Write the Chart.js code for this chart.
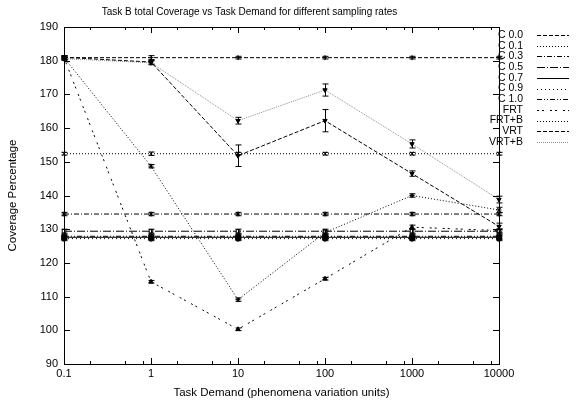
<!DOCTYPE html>
<html>
<head>
<meta charset="utf-8">
<script src="https://cdn.jsdelivr.net/npm/chart.js@4.4.1/dist/chart.umd.min.js"></script>
<style>
  html, body { margin: 0; padding: 0; background: #fff; }
  #wrap { width: 588px; height: 403px; }
</style>
</head>
<body>
<div id="wrap"><canvas id="coverageGraph"></canvas></div>
<script>
// Task demand values (x, log scale)
const demand = [0.1, 1, 10, 100, 1000, 10000];
const xTickValues = [0.1, 1, 10, 100, 1000, 10000];
const xMinorFactors = [2, 5, 8];
const yTickValues = [90, 100, 110, 120, 130, 140, 150, 160, 170, 180, 190];

const seriesNames = ["C 0.0", "C 0.1", "C 0.3", "C 0.5", "C 0.7", "C 0.9", "C 1.0", "FRT", "FRT+B", "VRT", "VRT+B"];

// coverage
const c00 = [180.9, 180.9, 180.9, 180.9, 180.9, 180.9];
const c01 = [152.4, 152.4, 152.4, 152.4, 152.4, 152.4];
const c03 = [134.5, 134.5, 134.5, 134.5, 134.5, 134.5];
const c05 = [129.4, 129.4, 129.4, 129.4, 129.4, 129.4];
const c07 = [127.6, 127.6, 127.6, 127.6, 127.6, 127.6];
const c09 = [127.2, 127.2, 127.2, 127.2, 127.2, 127.2];
const c10 = [127.9, 127.9, 127.9, 127.9, 127.9, 127.9];
const frt = [180.9, 114.4, 100.3, 115.3, 130.6, 129.6];
const frtB = [180.9, 148.7, 109.1, 129.0, 140.0, 135.7];
const vrt = [181.0, 179.6, 151.8, 162.2, 146.5, 130.8];
const vrtB = [180.6, 179.4, 162.2, 171.3, 155.3, 138.8];

// half width of error bars
const c00Err = [0.5, 0.6, 0.4, 0.4, 0.4, 0.4];
const c01Err = [0.4, 0.5, 0.4, 0.4, 0.4, 0.4];
const c03Err = [0.5, 0.5, 0.5, 0.5, 0.5, 0.5];
const c05Err = [0.6, 0.6, 0.6, 0.6, 0.6, 0.6];
const c07Err = [0.6, 0.6, 0.6, 0.6, 0.6, 0.6];
const c09Err = [0.6, 0.6, 0.6, 0.6, 0.6, 0.6];
const c10Err = [0.6, 0.6, 0.6, 0.6, 0.6, 0.6];
const frtErr = [0.5, 0.4, 0.4, 0.4, 0.6, 0.5];
const frtBErr = [0.5, 0.5, 0.5, 0.5, 0.5, 0.8];
const vrtErr = [0.5, 0.6, 3.2, 3.3, 0.8, 1.0];
const vrtBErr = [0.5, 0.6, 1.0, 1.8, 1.2, 1.0];

const FONT = '"Liberation Sans", Arial, sans-serif';

function series(i, values, errors, dash, point, extra) {
    return Object.assign({
        label: seriesNames[i],
        data: demand.map((x, j) => ({ x: x, y: values[j] })),
        errors: errors,
        borderColor: '#000',
        borderWidth: 1,
        borderDash: dash,
        pointStyle: point,
        pointRadius: 2.5,
        pointBorderColor: '#000',
        pointBackgroundColor: '#000',
        pointBorderWidth: 1,
        fill: false,
        tension: 0,
        clip: false
    }, extra || {});
}

// inward ticks + full box, like gnuplot
const frame = {
    id: 'frame',
    afterDraw(chart) {
        const { ctx, chartArea: a, scales: { x, y } } = chart;
        ctx.save();
        ctx.strokeStyle = '#000';
        ctx.lineWidth = 1;
        ctx.setLineDash([]);
        ctx.beginPath();
        xTickValues.forEach((v) => {
            const px = Math.round(x.getPixelForValue(v)) + 0.5;
            ctx.moveTo(px, a.bottom); ctx.lineTo(px, a.bottom - 6);
            ctx.moveTo(px, a.top); ctx.lineTo(px, a.top + 6);
            if (v < 10000) {
                xMinorFactors.forEach((f) => {
                    const pm = Math.round(x.getPixelForValue(v * f)) + 0.5;
                    ctx.moveTo(pm, a.bottom); ctx.lineTo(pm, a.bottom - 3);
                    ctx.moveTo(pm, a.top); ctx.lineTo(pm, a.top + 3);
                });
            }
        });
        yTickValues.forEach((v) => {
            const py = Math.round(y.getPixelForValue(v)) + 0.5;
            ctx.moveTo(a.left, py); ctx.lineTo(a.left + 6, py);
            ctx.moveTo(a.right, py); ctx.lineTo(a.right - 6, py);
        });
        ctx.stroke();
        ctx.strokeRect(Math.round(a.left) + 0.5, Math.round(a.top) + 0.5, Math.round(a.width), Math.round(a.height));
        ctx.restore();
    }
};

const errorBars = {
    id: 'errorBars',
    afterDatasetsDraw(chart) {
        const { ctx, scales: { x, y } } = chart;
        ctx.save();
        ctx.strokeStyle = '#000';
        ctx.lineWidth = 1;
        ctx.setLineDash([]);
        chart.data.datasets.forEach((ds) => {
            if (!ds.errors) return;
            ds.data.forEach((p, j) => {
                const e = ds.errors[j];
                const px = Math.round(x.getPixelForValue(p.x)) + 0.5;
                const top = y.getPixelForValue(p.y + e);
                const bot = y.getPixelForValue(p.y - e);
                ctx.beginPath();
                ctx.moveTo(px, top); ctx.lineTo(px, bot);
                ctx.moveTo(px - 3, top); ctx.lineTo(px + 3, top);
                ctx.moveTo(px - 3, bot); ctx.lineTo(px + 3, bot);
                ctx.stroke();
            });
        });
        ctx.restore();
    }
};

// gnuplot style key: text right aligned, line sample after it
const key = {
    id: 'key',
    afterDraw(chart) {
        const ctx = chart.ctx;
        ctx.save();
        ctx.font = '10.5px ' + FONT;
        ctx.textAlign = 'right';
        ctx.textBaseline = 'middle';
        chart.data.datasets.forEach((ds, i) => {
            const rowY = 35 + i * 10.7;
            ctx.fillStyle = '#000';
            ctx.fillText(ds.label, 523, rowY);
            ctx.strokeStyle = ds.borderColor;
            ctx.lineWidth = ds.borderWidth;
            ctx.setLineDash(ds.borderDash);
            ctx.beginPath();
            ctx.moveTo(537, Math.round(rowY) + 0.5);
            ctx.lineTo(569, Math.round(rowY) + 0.5);
            ctx.stroke();
        });
        ctx.restore();
    }
};

const ctx = document.getElementById('coverageGraph');

new Chart(ctx, {
    type: 'line',
    data: {
        datasets: [
            series(0, c00, c00Err, [4, 2], 'cross'),
            series(1, c01, c01Err, [1, 2], 'crossRot'),
            series(2, c03, c03Err, [5, 2, 1, 2], 'star'),
            series(3, c05, c05Err, [8, 2, 1, 2], 'rect', { pointBackgroundColor: '#fff' }),
            series(4, c07, c07Err, [], 'rect'),
            series(5, c09, c09Err, [1, 3], 'circle'),
            series(6, c10, c10Err, [5, 2, 1, 2, 1, 2], 'circle', { pointBackgroundColor: '#fff' }),
            series(7, frt, frtErr, [2, 3, 2, 6], 'triangle'),
            series(8, frtB, frtBErr, [1, 2], 'star'),
            series(9, vrt, vrtErr, [4, 2], 'triangle', { pointRotation: 180 }),
            series(10, vrtB, vrtBErr, [1, 1], 'triangle', { pointRotation: 180, borderColor: '#8c8c8c' })
        ]
    },
    plugins: [errorBars, frame, key],
    options: {
        responsive: true,
        maintainAspectRatio: false,
        animation: false,
        layout: {
            padding: { left: 0, right: 89, top: 0, bottom: 0 }
        },
        plugins: {
            legend: { display: false },
            tooltip: { enabled: false },
            title: {
                display: true,
                text: 'Task B total Coverage vs Task Demand for different sampling rates',
                color: '#000',
                font: { family: FONT, size: 10, weight: 'normal' },
                padding: { top: 6, bottom: 9 }
            }
        },
        scales: {
            x: {
                type: 'logarithmic',
                min: 0.1,
                max: 10000,
                afterBuildTicks: (scale) => { scale.ticks = xTickValues.map((v) => ({ value: v })); },
                afterFit: (scale) => { scale.height = 39; },
                grid: { display: false, drawTicks: false },
                border: { display: false },
                ticks: {
                    autoSkip: false,
                    maxRotation: 0,
                    padding: 3,
                    color: '#000',
                    font: { family: FONT, size: 11 },
                    callback: (v) => String(v)
                },
                title: {
                    display: true,
                    text: 'Task Demand (phenomena variation units)',
                    color: '#000',
                    font: { family: FONT, size: 11.5 },
                    padding: { top: 0, bottom: 3 }
                }
            },
            y: {
                min: 90,
                max: 190,
                afterBuildTicks: (scale) => { scale.ticks = yTickValues.map((v) => ({ value: v })); },
                afterFit: (scale) => { scale.width = 64; },
                grid: { display: false, drawTicks: false },
                border: { display: false },
                ticks: {
                    padding: 6,
                    color: '#000',
                    font: { family: FONT, size: 11 }
                },
                title: {
                    display: true,
                    text: 'Coverage Percentage',
                    color: '#000',
                    font: { family: FONT, size: 11.5 },
                    padding: { top: 6, bottom: 0 }
                }
            }
        }
    }
});
</script>
</body>
</html>
